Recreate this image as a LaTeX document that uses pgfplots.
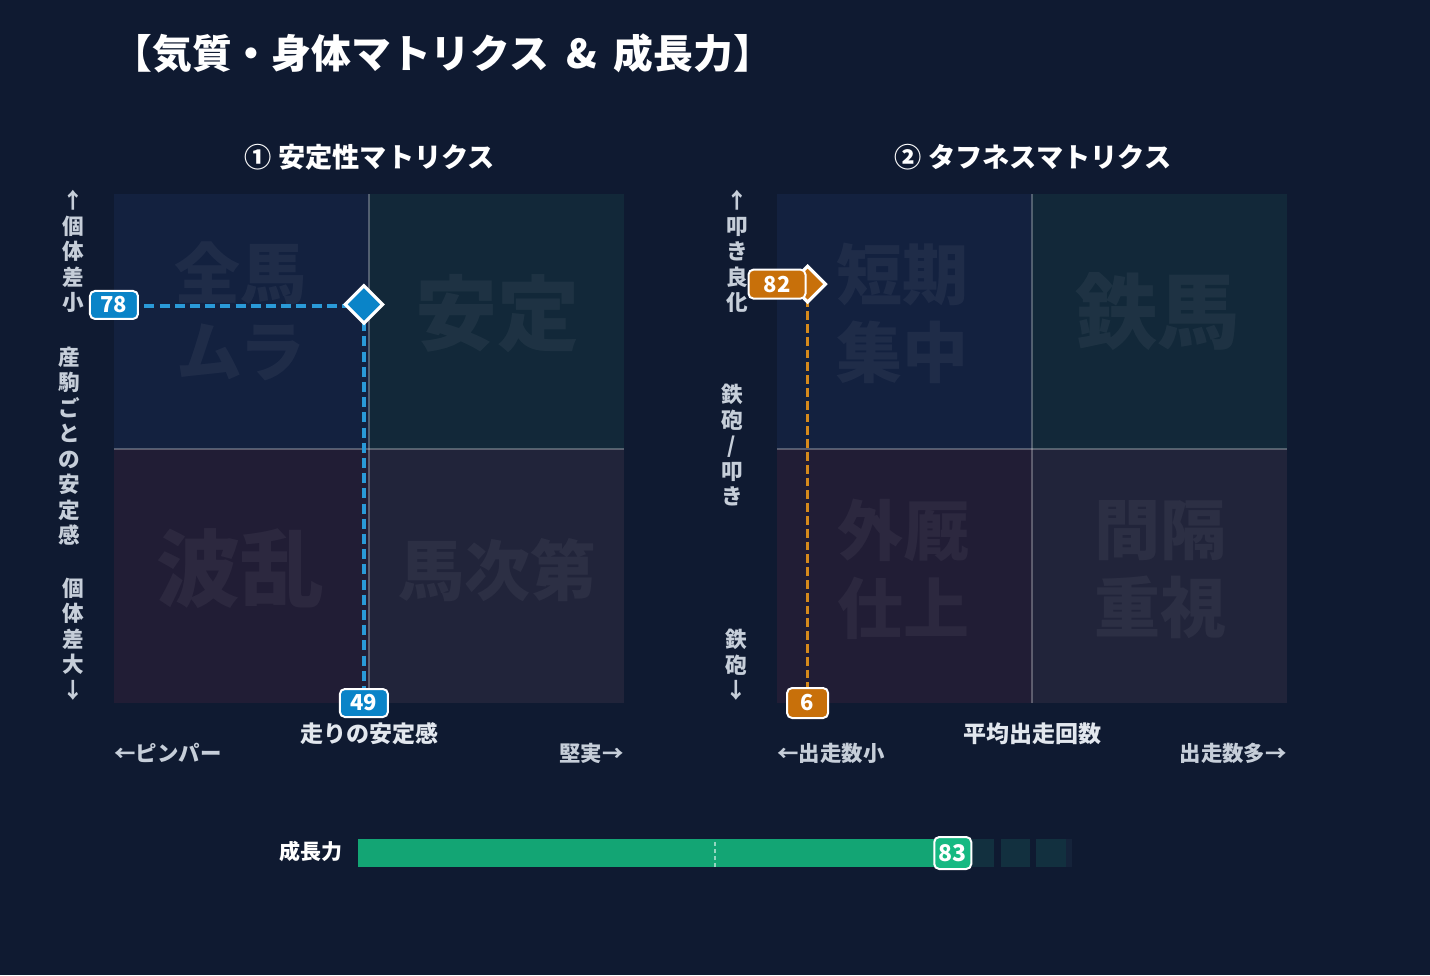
\documentclass[border=0pt]{standalone}
\usepackage{pgfplots}
\pgfplotsset{compat=1.18}
\usepackage{fontspec}
\setmainfont{Noto Sans CJK JP}
\definecolor{bg}{HTML}{0F1A31}
\definecolor{qTL}{HTML}{13213F}
\definecolor{qTR}{HTML}{122839}
\definecolor{qBL}{HTML}{211D35}
\definecolor{qBR}{HTML}{21243A}
\definecolor{txt}{HTML}{E2E7EE}
\definecolor{sub}{HTML}{C6CED9}
\definecolor{blueA}{HTML}{0A84C8}
\definecolor{blueL}{HTML}{2A9AD8}
\definecolor{orA}{HTML}{C8700A}
\definecolor{orL}{HTML}{D68A1C}
\definecolor{grA}{HTML}{13A574}
\definecolor{grB}{HTML}{16B982}
\definecolor{emp}{HTML}{12303F}
\definecolor{trk}{HTML}{15233A}
\newcommand{\fs}[1]{\fontsize{#1}{#1}\selectfont}
\newcommand{\vfs}{\bfseries\fontsize{10.8pt}{12.75pt}\selectfont}
\tikzset{
  wm/.style={text=white, opacity=0.05, font=\bfseries\fontsize{#1}{39pt}\selectfont, align=center, inner sep=0pt},
  quad/.style={white, opacity=0.27, line width=1pt},
}
\pgfplotsset{
  mat/.style={anchor=south west, scale only axis, width=255pt, height=254.5pt,
    xmin=0, xmax=100, ymin=0, ymax=100, hide axis, clip=false},
  vbox/.style n args={3}{draw=none, mark=none, nodes near coords, point meta=explicit symbolic,
    every node near coord/.append style={anchor=center, fill=#1, draw=white, line width=1pt,
      rounded corners=2.5pt, text=white, font=\bfseries\fs{11pt}, minimum width=#2,
      minimum height=#3, inner sep=1pt}},
}
\begin{document}
\begin{tikzpicture}
\fill[bg] (0,0) rectangle (715pt,-487.5pt);
\useasboundingbox (0,0) rectangle (715pt,-487.5pt);

% ---------- left matrix ----------
\begin{axis}[mat, at={(57pt,-351.5pt)}]
\fill[qTL] (axis cs:0,50) rectangle (axis cs:50,100);
\fill[qTR] (axis cs:50,50) rectangle (axis cs:100,100);
\fill[qBL] (axis cs:0,0) rectangle (axis cs:50,50);
\fill[qBR] (axis cs:50,0) rectangle (axis cs:100,50);
\draw[quad] (axis cs:50,0) -- (axis cs:50,100);
\draw[quad] (axis cs:0,50) -- (axis cs:100,50);
\node[wm=33pt] at (axis cs:24.9,77.0) {全馬\\ムラ};
\node[wm=41pt] at (axis cs:75.1,76.6) {安定};
\node[wm=42pt] at (axis cs:24.9,26.5) {波乱};
\node[wm=33pt] at (axis cs:75.1,26.1) {馬次第};
\addplot[blueL, line width=1.6pt, dash pattern=on 5pt off 2.6pt] coordinates {(0,78) (49,78)};
\addplot[blueL, line width=1.6pt, dash pattern=on 5pt off 2.6pt] coordinates {(49,78) (49,0)};
\addplot[only marks, mark=square*, mark size=6.6pt,
  mark options={rotate=45, fill=blueA, draw=white, line width=1.6pt}] coordinates {(49,78.3)};
\addplot[vbox={blueA}{24pt}{14pt}] coordinates {(0,78.2) [78] (49,0) [49]};
\end{axis}

% ---------- right matrix ----------
\begin{axis}[mat, at={(388.5pt,-351.5pt)}]
\fill[qTL] (axis cs:0,50) rectangle (axis cs:50,100);
\fill[qTR] (axis cs:50,50) rectangle (axis cs:100,100);
\fill[qBL] (axis cs:0,0) rectangle (axis cs:50,50);
\fill[qBR] (axis cs:50,0) rectangle (axis cs:100,50);
\draw[quad] (axis cs:50,0) -- (axis cs:50,100);
\draw[quad] (axis cs:0,50) -- (axis cs:100,50);
\node[wm=33pt] at (axis cs:24.7,76.6) {短期\\集中};
\node[wm=41pt] at (axis cs:74.7,77.0) {鉄馬};
\node[wm=33pt] at (axis cs:24.9,26.3) {外厩\\仕上};
\node[wm=33pt] at (axis cs:75.1,26.3) {間隔\\重視};
\addplot[orL, line width=1.6pt, dash pattern=on 4.4pt off 2pt] coordinates {(0,82) (6,82)};
\addplot[orL, line width=1.6pt, dash pattern=on 4.4pt off 2pt] coordinates {(6,82) (6,0)};
\addplot[only marks, mark=square*, mark size=6.3pt,
  mark options={rotate=45, fill=orA, draw=white, line width=1.6pt}] coordinates {(6,82.3)};
\addplot[vbox={orA}{28.5pt}{14.5pt}] coordinates {(0,82.3) [82]};
\addplot[vbox={orA}{20.5pt}{15pt}] coordinates {(6,0) [6]};
\end{axis}

% ---------- growth bar ----------
\begin{axis}[at={(179pt,-433.5pt)}, anchor=south west, scale only axis, width=357pt, height=14pt,
  xmin=0, xmax=100, ymin=0, ymax=1, hide axis, clip=false]
\addplot[draw=none, fill=trk] coordinates {(99.1,1) (100,1)} \closedcycle;
\addplot[draw=none, fill=emp] coordinates {(83,1) (89.1,1)} \closedcycle;
\addplot[draw=none, fill=emp] coordinates {(90,1) (94.1,1)} \closedcycle;
\addplot[draw=none, fill=emp] coordinates {(95,1) (99.1,1)} \closedcycle;
\addplot[draw=none, fill=grA] coordinates {(0,1) (83,1)} \closedcycle;
\addplot[white, opacity=0.55, line width=0.6pt, dash pattern=on 2pt off 1.5pt] coordinates {(50,0) (50,1)};
\addplot[draw=none, mark=none, nodes near coords, point meta=explicit symbolic,
  every node near coord/.append style={anchor=center, fill=grB, draw=white, line width=1pt,
    rounded corners=2.5pt, text=white, font=\bfseries\fs{11.5pt}, minimum width=18.5pt,
    minimum height=16pt, inner sep=1pt}] coordinates {(83.3,0.5) [83]};
\end{axis}

% ---------- texts ----------
\begin{scope}[x=0.5pt, y=-0.5pt]
\node[anchor=west, text=white, font=\bfseries\fs{19.9pt}, inner sep=0pt] at (112,53) {【気質・身体マトリクス\hspace{9pt}\&\hspace{8pt}成長力】};
\node[text=white, font=\bfseries\fs{13.6pt}] at (370,157) {① 安定性マトリクス};
\node[text=white, font=\bfseries\fs{13.6pt}] at (1033,157) {② タフネスマトリクス};

\node[text=sub, font=\vfs, align=center] at (73,251.5) {↑\\個\\体\\差\\小};
\node[text=sub, font=\vfs, align=center] at (69,446) {産\\駒\\ご\\と\\の\\安\\定\\感};
\node[text=sub, font=\vfs, align=center] at (73,639) {個\\体\\差\\大\\↓};

\node[text=sub, font=\vfs, align=center] at (737,251.5) {↑\\叩\\き\\良\\化};
\node[text=sub, font=\vfs, align=center] at (732,445.5) {鉄\\砲\\/\\叩\\き};
\node[text=sub, font=\vfs, align=center] at (736,665) {鉄\\砲\\↓};

\node[text=txt, font=\bfseries\fs{11.5pt}] at (369,734) {走りの安定感};
\node[text=sub, font=\bfseries\fs{10.7pt}, anchor=west, inner sep=0pt] at (114,753) {←ピンパー};
\node[text=sub, font=\bfseries\fs{10.7pt}, anchor=east, inner sep=0pt] at (624,753) {堅実→};
\node[text=txt, font=\bfseries\fs{11.5pt}] at (1032,734) {平均出走回数};
\node[text=sub, font=\bfseries\fs{10.7pt}, anchor=west, inner sep=0pt] at (777,753) {←出走数小};
\node[text=sub, font=\bfseries\fs{10.7pt}, anchor=east, inner sep=0pt] at (1287,753) {出走数多→};

\node[text=white, font=\bfseries\fs{10.5pt}, anchor=east, inner sep=0pt] at (343,851) {成長力};
\end{scope}
\end{tikzpicture}
\end{document}
